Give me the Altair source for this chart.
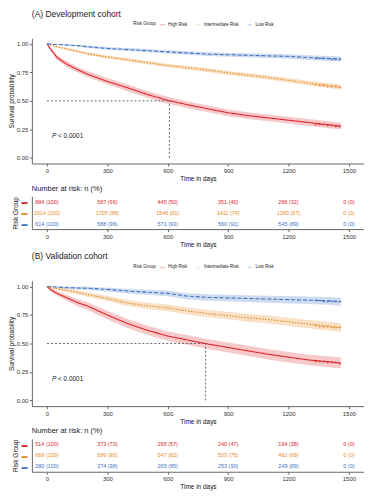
import altair as alt
import pandas as pd

GROUPS = ["High Risk", "Intermediate Risk", "Low Risk"]
COLORS = ["#E0262B", "#E8891E", "#3E73C4"]
DASHES = [[1, 0], [1.5, 1.5], [4, 2]]

TIMES = [0, 20, 50, 100, 150, 200, 300, 400, 500, 600, 700, 800, 900, 1000, 1100, 1200, 1300, 1400, 1460]

# Panel A (Development cohort)
A_HIGH = [1.00, 0.95, 0.88, 0.82, 0.775, 0.735, 0.67, 0.615, 0.555, 0.505, 0.465, 0.43, 0.395, 0.37, 0.35, 0.33, 0.31, 0.29, 0.278]
A_HIGH_LO = [1.00, 0.935, 0.86, 0.795, 0.75, 0.71, 0.645, 0.585, 0.525, 0.475, 0.435, 0.40, 0.365, 0.34, 0.32, 0.30, 0.28, 0.26, 0.25]
A_HIGH_HI = [1.00, 0.965, 0.90, 0.845, 0.80, 0.765, 0.70, 0.645, 0.585, 0.535, 0.495, 0.46, 0.425, 0.40, 0.38, 0.36, 0.34, 0.32, 0.308]
A_INT = [1.00, 0.99, 0.975, 0.955, 0.935, 0.915, 0.885, 0.86, 0.835, 0.81, 0.79, 0.77, 0.745, 0.725, 0.705, 0.68, 0.655, 0.635, 0.62]
A_INT_LO = [1.00, 0.985, 0.968, 0.945, 0.924, 0.903, 0.871, 0.845, 0.82, 0.794, 0.773, 0.752, 0.727, 0.706, 0.686, 0.66, 0.634, 0.613, 0.597]
A_INT_HI = [1.00, 0.995, 0.982, 0.965, 0.946, 0.927, 0.899, 0.875, 0.85, 0.826, 0.807, 0.788, 0.763, 0.744, 0.724, 0.70, 0.676, 0.657, 0.643]
A_LOW = [1.00, 0.998, 0.995, 0.99, 0.985, 0.975, 0.96, 0.95, 0.94, 0.93, 0.92, 0.91, 0.905, 0.90, 0.895, 0.89, 0.88, 0.872, 0.868]
A_LOW_LO = [1.00, 0.995, 0.99, 0.983, 0.976, 0.965, 0.948, 0.937, 0.926, 0.915, 0.904, 0.893, 0.887, 0.882, 0.876, 0.87, 0.859, 0.85, 0.845]
A_LOW_HI = [1.00, 1.0, 0.999, 0.997, 0.993, 0.985, 0.972, 0.963, 0.954, 0.945, 0.936, 0.927, 0.923, 0.918, 0.914, 0.91, 0.901, 0.894, 0.891]

# Panel B (Validation cohort)
B_HIGH = [1.00, 0.97, 0.94, 0.90, 0.86, 0.83, 0.75, 0.675, 0.615, 0.565, 0.53, 0.495, 0.465, 0.435, 0.405, 0.38, 0.355, 0.34, 0.328]
B_HIGH_LO = [1.00, 0.955, 0.92, 0.875, 0.83, 0.797, 0.713, 0.636, 0.575, 0.524, 0.488, 0.452, 0.421, 0.39, 0.36, 0.334, 0.308, 0.292, 0.28]
B_HIGH_HI = [1.00, 0.985, 0.96, 0.925, 0.89, 0.863, 0.787, 0.714, 0.655, 0.606, 0.572, 0.538, 0.509, 0.48, 0.45, 0.426, 0.402, 0.388, 0.376]
B_INT = [1.00, 0.99, 0.98, 0.965, 0.95, 0.93, 0.895, 0.855, 0.83, 0.812, 0.785, 0.762, 0.745, 0.725, 0.71, 0.69, 0.67, 0.652, 0.64]
B_INT_LO = [1.00, 0.982, 0.969, 0.95, 0.933, 0.911, 0.872, 0.829, 0.802, 0.782, 0.754, 0.73, 0.712, 0.691, 0.675, 0.654, 0.633, 0.614, 0.601]
B_INT_HI = [1.00, 0.998, 0.991, 0.98, 0.967, 0.949, 0.918, 0.881, 0.858, 0.842, 0.816, 0.794, 0.778, 0.759, 0.745, 0.726, 0.707, 0.69, 0.679]
B_LOW = [1.00, 1.00, 0.995, 0.99, 0.987, 0.985, 0.975, 0.96, 0.95, 0.94, 0.915, 0.905, 0.90, 0.895, 0.89, 0.885, 0.88, 0.875, 0.868]
B_LOW_LO = [1.00, 1.00, 0.987, 0.978, 0.973, 0.969, 0.956, 0.938, 0.926, 0.914, 0.887, 0.876, 0.87, 0.864, 0.858, 0.852, 0.846, 0.84, 0.832]
B_LOW_HI = [1.00, 1.00, 1.0, 1.0, 0.998, 0.997, 0.99, 0.98, 0.972, 0.964, 0.941, 0.932, 0.928, 0.924, 0.92, 0.916, 0.912, 0.908, 0.902]

# Censoring marks near the end of follow-up
CENSOR_T = [1335, 1355, 1375, 1395, 1415, 1435, 1455]
A_HIGH_C = [0.30, 0.298, 0.294, 0.29, 0.287, 0.283, 0.279]
A_INT_C = [0.645, 0.641, 0.637, 0.634, 0.63, 0.626, 0.621]
A_LOW_C = [0.877, 0.875, 0.874, 0.872, 0.871, 0.87, 0.868]
B_HIGH_C = [0.35, 0.347, 0.344, 0.34, 0.337, 0.333, 0.329]
B_INT_C = [0.66, 0.657, 0.654, 0.651, 0.648, 0.645, 0.641]
B_LOW_C = [0.879, 0.878, 0.876, 0.875, 0.873, 0.871, 0.869]

# Median survival (High Risk)
A_MEDIAN = 608
B_MEDIAN = 788

# Number at risk
RISK_TIMES = [0, 300, 600, 900, 1200, 1500]
A_N_HIGH = [884, 587, 445, 351, 286, 0]
A_P_HIGH = [100, 66, 50, 40, 32, 0]
A_N_INT = [1914, 1705, 1546, 1411, 1283, 0]
A_P_INT = [100, 89, 81, 74, 67, 0]
A_N_LOW = [614, 588, 571, 560, 545, 0]
A_P_LOW = [100, 96, 93, 91, 89, 0]
B_N_HIGH = [514, 373, 295, 240, 194, 0]
B_P_HIGH = [100, 73, 57, 47, 38, 0]
B_N_INT = [669, 599, 547, 503, 462, 0]
B_P_INT = [100, 90, 82, 75, 69, 0]
B_N_LOW = [280, 274, 265, 253, 249, 0]
B_P_LOW = [100, 98, 95, 90, 89, 0]

FONT = "Liberation Sans"
W = 334
H = 126
XDOM = [-75, 1575]
XTICKS = [0, 300, 600, 900, 1200, 1500]

color_scale = alt.Scale(domain=GROUPS, range=COLORS)
dash_scale = alt.Scale(domain=GROUPS, range=DASHES)


def curves_df(series):
    rows = []
    for g, (est, lo, hi) in zip(GROUPS, series):
        for t, e, l, h in zip(TIMES, est, lo, hi):
            rows.append({"time": t, "surv": e, "lo": l, "hi": h, "group": g})
    return pd.DataFrame(rows)


def censor_df(series):
    rows = []
    for g, ys in zip(GROUPS, series):
        for t, y in zip(CENSOR_T, ys):
            rows.append({"time": t, "surv": y, "group": g})
    return pd.DataFrame(rows)


def risk_df(ns, ps):
    rows = []
    for g, n, p in zip(GROUPS, ns, ps):
        for t, nn, pp in zip(RISK_TIMES, n, p):
            rows.append({"time": t, "group": g, "label": f"{nn} ({pp})"})
    return pd.DataFrame(rows)


def xenc():
    return alt.X("time:Q", scale=alt.Scale(domain=XDOM, nice=False, zero=False),
                 axis=alt.Axis(values=XTICKS, title="Time in days", format="d"))


def yenc(field="surv:Q"):
    return alt.Y(field, scale=alt.Scale(domain=[-0.05, 1.05], nice=False, zero=False),
                 axis=alt.Axis(values=[0, 0.25, 0.5, 0.75, 1.0], format=".2f",
                               title="Survival probability"))


def make_legend():
    return alt.Legend(title="Risk Group", orient="none", legendX=102, legendY=-17,
                      direction="horizontal", titleOrient="left", labelFontSize=4.5,
                      titleFontSize=4.5, titleFontWeight="normal", symbolSize=30,
                      symbolStrokeWidth=1.5, columnPadding=4, titlePadding=3,
                      labelOffset=2, symbolType="stroke", titleColor="#222",
                      labelColor="#222", gridAlign="none")


def km_chart(curves, censors, median, title):
    df = curves_df(curves)
    band = alt.Chart(df).mark_area(opacity=0.25).encode(
        x=xenc(), y=yenc("lo:Q"), y2="hi:Q",
        color=alt.Color("group:N", scale=color_scale, legend=make_legend()))
    line = alt.Chart(df).mark_line(strokeWidth=1.1).encode(
        x=xenc(), y=yenc(),
        color=alt.Color("group:N", scale=color_scale, legend=make_legend()),
        strokeDash=alt.StrokeDash("group:N", scale=dash_scale, legend=make_legend()))
    cen = alt.Chart(censor_df(censors)).mark_text(text="+", fontSize=6, font=FONT).encode(
        x=xenc(), y=yenc(), color=alt.Color("group:N", scale=color_scale, legend=make_legend()))
    med_df = pd.DataFrame({"time": [0, median], "time2": [median, median],
                           "surv": [0.5, 0.0], "surv2": [0.5, 0.5]})
    med = alt.Chart(med_df).mark_rule(strokeDash=[2, 2], color="#444", strokeWidth=0.8).encode(
        x=xenc(), x2="time2:Q", y=yenc(), y2="surv2:Q")
    p_df = pd.DataFrame({"time": [25], "surv": [0.19]})
    p1 = alt.Chart(p_df).mark_text(text="P", fontStyle="italic", fontSize=6.5, align="left",
                                   font=FONT, color="#222").encode(x=xenc(), y=yenc())
    p2 = alt.Chart(p_df).mark_text(text="< 0.0001", fontSize=6.5, align="left", dx=6,
                                   font=FONT, color="#222").encode(x=xenc(), y=yenc())
    return alt.layer(band, med, line, cen, p1, p2).properties(
        width=W, height=H,
        title=alt.TitleParams(title, anchor="start", frame="group", fontSize=8.5,
                              fontWeight="normal", font=FONT, color="#222", offset=3))


def table_chart(ns, ps):
    df = risk_df(ns, ps)
    cond = [{"test": f"datum.value === '{g}'", "value": c} for g, c in zip(GROUPS[:2], COLORS[:2])]
    return alt.Chart(df).mark_text(fontSize=5.5, font=FONT).encode(
        x=xenc(),
        y=alt.Y("group:N", sort=GROUPS, scale=alt.Scale(domain=GROUPS),
                axis=alt.Axis(title="Risk Group", labelExpr="'▬'", ticks=False,
                              labelFontSize=6, labelPadding=5,
                              labelColor={"condition": cond, "value": COLORS[2]})),
        text="label:N",
        color=alt.Color("group:N", scale=color_scale, legend=None),
    ).properties(width=W, height=33,
                 title=alt.TitleParams("Number at risk: n (%)", anchor="start", frame="group",
                                       fontSize=7.5, fontWeight="normal", font=FONT,
                                       color="#222", offset=4))


km_a = km_chart([(A_HIGH, A_HIGH_LO, A_HIGH_HI), (A_INT, A_INT_LO, A_INT_HI), (A_LOW, A_LOW_LO, A_LOW_HI)],
                [A_HIGH_C, A_INT_C, A_LOW_C], A_MEDIAN, "(A) Development cohort")
km_b = km_chart([(B_HIGH, B_HIGH_LO, B_HIGH_HI), (B_INT, B_INT_LO, B_INT_HI), (B_LOW, B_LOW_LO, B_LOW_HI)],
                [B_HIGH_C, B_INT_C, B_LOW_C], B_MEDIAN, "(B) Validation cohort")
tab_a = table_chart([A_N_HIGH, A_N_INT, A_N_LOW], [A_P_HIGH, A_P_INT, A_P_LOW])
tab_b = table_chart([B_N_HIGH, B_N_INT, B_N_LOW], [B_P_HIGH, B_P_INT, B_P_LOW])

panel_a = alt.vconcat(km_a, tab_a, spacing=2).resolve_legend(color="independent", strokeDash="independent")
panel_b = alt.vconcat(km_b, tab_b, spacing=2).resolve_legend(color="independent", strokeDash="independent")

chart = alt.vconcat(panel_a, panel_b, spacing=4).resolve_legend(
    color="independent", strokeDash="independent"
).properties(padding=0).configure_view(stroke=None).configure_axis(
    grid=False, labelFontSize=6, titleFontSize=6.5, titleFontWeight="normal",
    labelFont=FONT, titleFont=FONT, labelColor="#333", titleColor="#111",
    domainColor="#666", tickColor="#666", domainWidth=1, tickSize=2.5,
    labelPadding=1.5, titlePadding=2,
).configure_legend(labelFont=FONT, titleFont=FONT)

chart.save("out.html", embed_options={"renderer": "svg", "actions": False})
